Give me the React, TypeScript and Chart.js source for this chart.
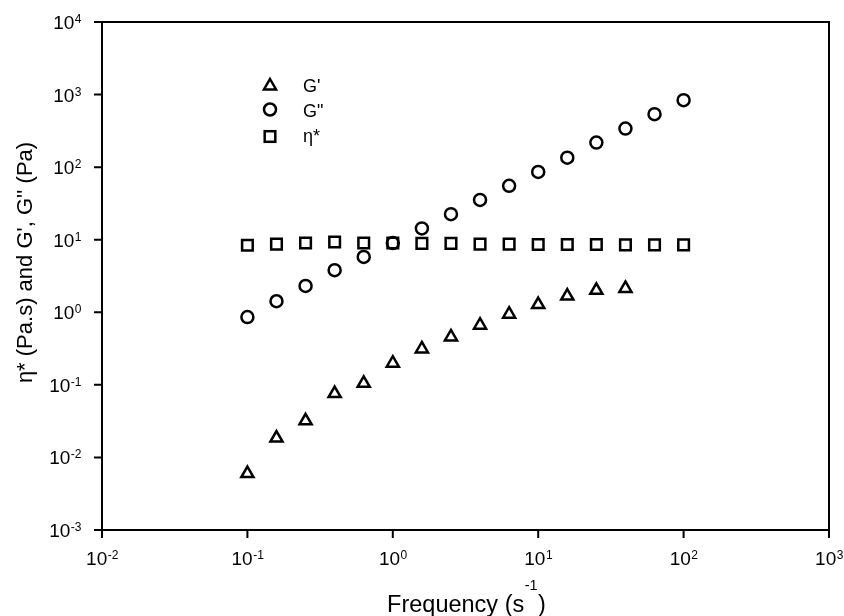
import React, { useEffect, useRef } from 'react';
import { Chart, registerables } from 'chart.js';

Chart.register(...registerables);

// ---- data ----
const frequency = [0.1, 0.1585, 0.2512, 0.3981, 0.631, 1, 1.585, 2.512, 3.981, 6.31, 10, 15.85, 25.12, 39.81, 63.1, 100];
const gPrime = [0.006, 0.0185, 0.032, 0.076, 0.105, 0.199, 0.313, 0.458, 0.664, 0.94, 1.28, 1.67, 2.01, 2.13];
const gDoublePrime = [0.86, 1.42, 2.31, 3.8, 5.8, 9.0, 14.3, 22.5, 35.3, 55.2, 86, 135, 218, 340, 536, 836];
const etaStar = [8.4, 8.7, 9.0, 9.3, 9.0, 9.0, 8.9, 8.9, 8.7, 8.7, 8.6, 8.6, 8.6, 8.5, 8.5, 8.5];

const xTickExponents = [-2, -1, 0, 1, 2, 3];
const yTickExponents = [-3, -2, -1, 0, 1, 2, 3, 4];

const legendLabels = ["G'", 'G"', 'η*'];
const xTitle = 'Frequency (s';
const xTitleSup = '-1';
const xTitleEnd = ')';
const yTitle = "η* (Pa.s) and G', G'' (Pa)";

const FONT = '"Liberation Sans", Arial, Helvetica, sans-serif';
const MARKER_LINE = 2.5;

function toPoints(values: number[]) {
  return values.map((v, i) => ({ x: frequency[i], y: v }));
}

function drawTriangle(ctx: CanvasRenderingContext2D, x: number, y: number, r: number) {
  ctx.beginPath();
  ctx.moveTo(x, y - r);
  ctx.lineTo(x + 0.866 * r, y + 0.5 * r);
  ctx.lineTo(x - 0.866 * r, y + 0.5 * r);
  ctx.closePath();
  ctx.stroke();
}

const decorPlugin = {
  id: 'decor',
  afterDraw(chart: any) {
    const { ctx, chartArea: a } = chart;
    const xs = chart.scales.x;
    const ys = chart.scales.y;
    ctx.save();
    ctx.strokeStyle = '#000';
    ctx.fillStyle = '#000';
    ctx.lineWidth = 2;
    ctx.strokeRect(a.left, a.top, a.right - a.left, a.bottom - a.top);

    // tick marks
    ctx.beginPath();
    for (const e of yTickExponents) {
      const py = ys.getPixelForValue(Math.pow(10, e));
      ctx.moveTo(a.left - 8, py);
      ctx.lineTo(a.left, py);
    }
    for (const e of xTickExponents) {
      const px = xs.getPixelForValue(Math.pow(10, e));
      ctx.moveTo(px, a.bottom);
      ctx.lineTo(px, a.bottom + 8);
    }
    ctx.stroke();

    // tick labels with superscripts
    ctx.textBaseline = 'alphabetic';
    ctx.textAlign = 'left';
    const baseFont = `19px ${FONT}`;
    const supFont = `12px ${FONT}`;
    for (const e of yTickExponents) {
      const py = ys.getPixelForValue(Math.pow(10, e));
      ctx.font = baseFont;
      const w10 = ctx.measureText('10').width;
      ctx.font = supFont;
      const we = ctx.measureText(String(e)).width;
      const right = a.left - 21;
      const x0 = right - w10 - we;
      const base = py + 7;
      ctx.font = baseFont;
      ctx.fillText('10', x0, base);
      ctx.font = supFont;
      ctx.fillText(String(e), x0 + w10 + 0.5, base - 6);
    }
    for (const e of xTickExponents) {
      const px = xs.getPixelForValue(Math.pow(10, e));
      ctx.font = baseFont;
      const w10 = ctx.measureText('10').width;
      ctx.font = supFont;
      const we = ctx.measureText(String(e)).width;
      const x0 = px - (w10 + we) / 2;
      const base = a.bottom + 35;
      ctx.font = baseFont;
      ctx.fillText('10', x0, base);
      ctx.font = supFont;
      ctx.fillText(String(e), x0 + w10 + 0.5, base - 6);
    }

    // x title
    const xTitleFont = `23.5px ${FONT}`;
    const titleSupFont = `14.5px ${FONT}`;
    ctx.font = xTitleFont;
    const w1 = ctx.measureText(xTitle).width;
    const w3 = ctx.measureText(xTitleEnd).width;
    ctx.font = titleSupFont;
    const w2 = ctx.measureText(xTitleSup).width;
    const cx = (a.left + a.right) / 2 + 1;
    let tx = cx - (w1 + w2 + w3 + 1) / 2;
    const tb = a.bottom + 81.5;
    ctx.font = xTitleFont;
    ctx.fillText(xTitle, tx, tb);
    tx += w1;
    ctx.font = titleSupFont;
    ctx.fillText(xTitleSup, tx + 0.5, tb - 22);
    tx += w2 + 1;
    ctx.font = xTitleFont;
    ctx.fillText(xTitleEnd, tx, tb);

    // y title
    ctx.save();
    ctx.translate(31.5, 262.5);
    ctx.rotate(-Math.PI / 2);
    ctx.textAlign = 'center';
    ctx.font = `22px ${FONT}`;
    ctx.fillText(yTitle, 0, 0);
    ctx.restore();

    // legend
    ctx.lineWidth = MARKER_LINE;
    const lx = a.left + 168;
    drawTriangle(ctx, lx, a.top + 64, 7);
    ctx.beginPath();
    ctx.arc(lx, a.top + 87.5, 6, 0, Math.PI * 2);
    ctx.stroke();
    const s = 7.5 * Math.SQRT1_2;
    ctx.strokeRect(lx - s, a.top + 114.5 - s, 2 * s, 2 * s);
    ctx.font = `18px ${FONT}`;
    ctx.textAlign = 'left';
    ctx.fillText(legendLabels[0], a.left + 201, a.top + 69.7);
    ctx.fillText(legendLabels[1], a.left + 201, a.top + 94.7);
    ctx.fillText(legendLabels[2], a.left + 201, a.top + 120);
    ctx.restore();
  },
};

export default function App() {
  const ref = useRef<HTMLCanvasElement | null>(null);
  useEffect(() => {
    if (!ref.current) return;
    const common = {
      borderColor: '#000',
      backgroundColor: 'rgba(0,0,0,0)',
      borderWidth: MARKER_LINE,
      pointBorderWidth: MARKER_LINE,
      showLine: false,
    };
    const chart = new Chart(ref.current, {
      type: 'scatter',
      data: {
        datasets: [
          { ...common, label: "G'", data: toPoints(gPrime), pointStyle: 'triangle', pointRadius: 7 },
          { ...common, label: 'G"', data: toPoints(gDoublePrime), pointStyle: 'circle', pointRadius: 6 },
          { ...common, label: 'η*', data: toPoints(etaStar), pointStyle: 'rect', pointRadius: 7.5 },
        ],
      },
      options: {
        responsive: false,
        animation: false,
        layout: { padding: { left: 102, right: 15, top: 22, bottom: 86 } },
        scales: {
          x: { type: 'logarithmic', min: 0.01, max: 1000, display: false },
          y: { type: 'logarithmic', min: 0.001, max: 10000, display: false },
        },
        plugins: {
          legend: { display: false },
          tooltip: { enabled: false },
        },
      },
      plugins: [decorPlugin],
    } as any);
    return () => chart.destroy();
  }, []);
  return (
    <div style={{ position: 'fixed', left: 0, top: 0, width: 844, height: 616, background: '#fff' }}>
      <canvas ref={ref} width={844} height={616} />
    </div>
  );
}
